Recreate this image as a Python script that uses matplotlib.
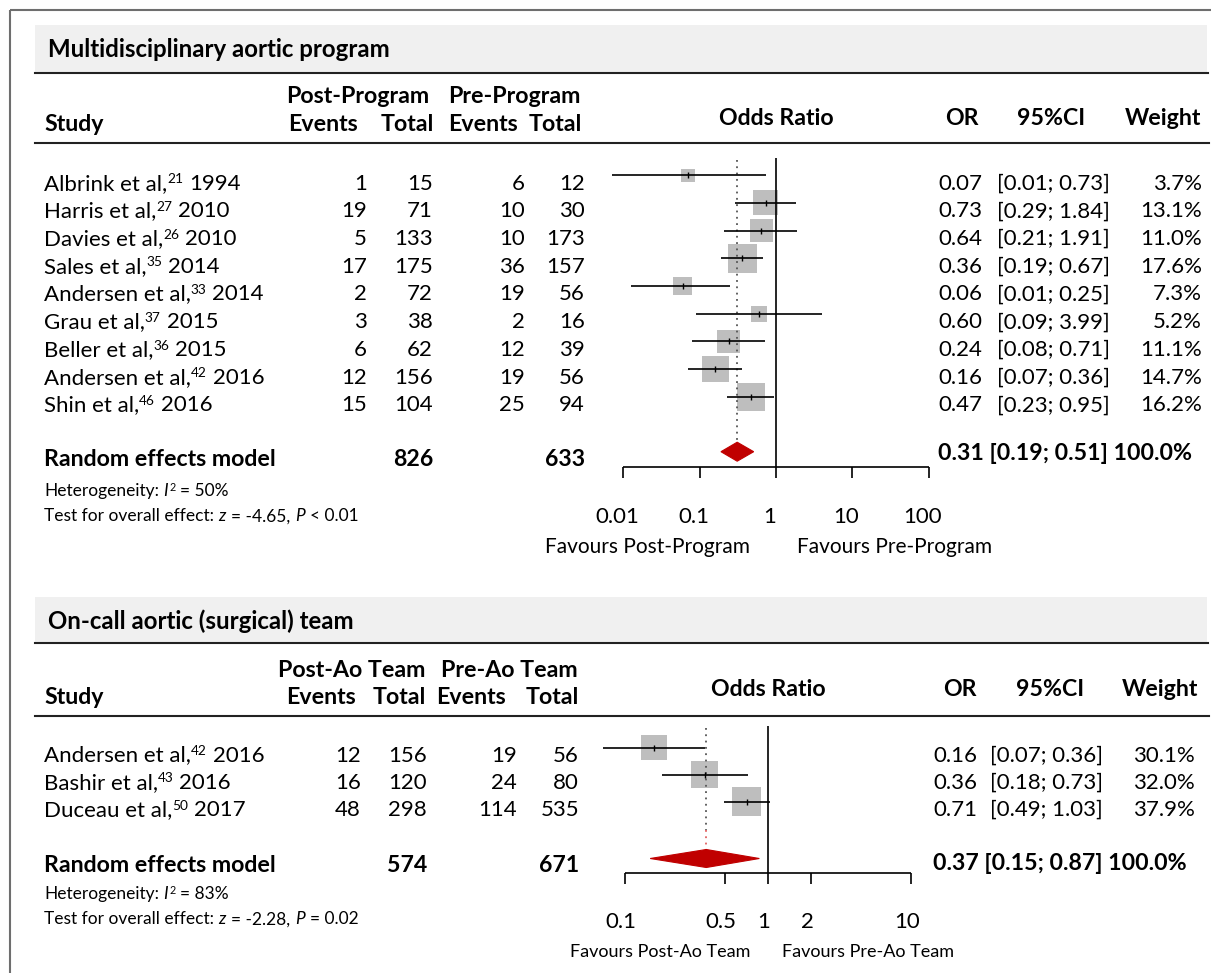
import numpy as np
import matplotlib
matplotlib.use("Agg")
import matplotlib.pyplot as plt
import matplotlib.transforms as mtransforms
from matplotlib.patches import Rectangle, Polygon

plt.rcParams['font.family'] = ['Lato', 'DejaVu Sans']

# ---------------- data: panel 1 ----------------
p1_title = "Multidisciplinary aortic program"
p1_group_post = "Post-Program"
p1_group_pre = "Pre-Program"
p1_authors = ["Albrink et al,", "Harris et al,", "Davies et al,", "Sales et al,",
              "Andersen et al,", "Grau et al,", "Beller et al,", "Andersen et al,",
              "Shin et al,"]
p1_refs = ["21", "27", "26", "35", "33", "37", "36", "42", "46"]
p1_years = ["1994", "2010", "2010", "2014", "2014", "2015", "2015", "2016", "2016"]
p1_post_events = [1, 19, 5, 17, 2, 3, 6, 12, 15]
p1_post_total = [15, 71, 133, 175, 72, 38, 62, 156, 104]
p1_pre_events = [6, 10, 10, 36, 19, 2, 12, 19, 25]
p1_pre_total = [12, 30, 173, 157, 56, 16, 39, 56, 94]
p1_or = [0.07, 0.73, 0.64, 0.36, 0.06, 0.60, 0.24, 0.16, 0.47]
p1_lo = [0.007, 0.29, 0.21, 0.19, 0.0125, 0.09, 0.08, 0.07, 0.23]
p1_hi = [0.73, 1.84, 1.91, 0.67, 0.25, 3.99, 0.71, 0.36, 0.95]
p1_weight = [3.7, 13.1, 11.0, 17.6, 7.3, 5.2, 11.1, 14.7, 16.2]
p1_sum = [0.31, 0.19, 0.51]
p1_sum_totals = [826, 633]
p1_i2 = 50
p1_z = -4.65
p1_p = ("<", "0.01")
p1_ticks = [0.01, 0.1, 1, 10, 100]
p1_tick_labels = ["0.01", "0.1", "1", "10", "100"]
p1_favours = ["Favours Post-Program", "Favours Pre-Program"]

# ---------------- data: panel 2 ----------------
p2_title = "On-call aortic (surgical) team"
p2_group_post = "Post-Ao Team"
p2_group_pre = "Pre-Ao Team"
p2_authors = ["Andersen et al,", "Bashir et al,", "Duceau et al,"]
p2_refs = ["42", "43", "50"]
p2_years = ["2016", "2016", "2017"]
p2_post_events = [12, 16, 48]
p2_post_total = [156, 120, 298]
p2_pre_events = [19, 24, 114]
p2_pre_total = [56, 80, 535]
p2_or = [0.16, 0.36, 0.71]
p2_lo = [0.07, 0.18, 0.49]
p2_hi = [0.36, 0.73, 1.03]
p2_weight = [30.1, 32.0, 37.9]
p2_sum = [0.37, 0.15, 0.87]
p2_sum_totals = [574, 671]
p2_i2 = 83
p2_z = -2.28
p2_p = ("=", "0.02")
p2_ticks = [0.1, 0.5, 1, 2, 10]
p2_tick_labels = ["0.1", "0.5", "1", "2", "10"]
p2_favours = ["Favours Post-Ao Team", "Favours Pre-Ao Team"]

W, H = 1211, 973
fig = plt.figure(figsize=(W / 100, H / 100), dpi=100)
ax0 = fig.add_axes([0, 0, 1, 1])
ax0.set_xlim(0, W)
ax0.set_ylim(H, 0)
ax0.axis('off')
renderer = fig.canvas.get_renderer()

FS = 16.0        # main text
FSB = 16.7       # bold text
FS_TITLE = 17.3
FS_SMALL = 12.5
CAP = 8.0        # half cap-height (px) of main font
CAP_S = 6.2

# outer frame (top & left visible)
ax0.plot([10, W], [10, 10], color='#6e6e6e', lw=1.5, solid_capstyle='butt')
ax0.plot([10, 10], [10, H], color='#6e6e6e', lw=1.5, solid_capstyle='butt')


def txt(x, y, s, ha='left', bold=False, fs=FS, cap=CAP, color='black'):
    return ax0.text(x, y + cap, s, ha=ha, va='baseline', fontsize=fs,
                    fontweight='bold' if bold else 'normal', color=color)


_space = {}


def space_w(fs, style):
    key = (fs, style)
    if key not in _space:
        a = ax0.text(0, 0, "x x", fontsize=fs, style=style)
        b = ax0.text(0, 0, "xx", fontsize=fs, style=style)
        _space[key] = a.get_window_extent(renderer).width - b.get_window_extent(renderer).width
        a.remove()
        b.remove()
    return _space[key]


def rich(x, y, segs, fs, cap):
    """segs: list of (text, kind) with kind in 'n', 'it', 'sup'."""
    base = y + cap
    cur = x
    for s, kind in segs:
        sfs = fs * 0.62 if kind == 'sup' else fs
        style = 'italic' if kind == 'it' else 'normal'
        sp = space_w(sfs, style)
        lead = len(s) - len(s.lstrip(' '))
        trail = len(s) - len(s.rstrip(' '))
        core = s.strip(' ')
        cur += lead * sp
        yy = base - (2 * cap) * 0.40 if kind == 'sup' else base
        t = ax0.text(cur, yy, core, ha='left', va='baseline', fontsize=sfs, style=style)
        cur += t.get_window_extent(renderer).width + trail * sp
        if kind == 'it':
            cur += 1.0


def panel(L, d):
    # header band
    ax0.add_patch(Rectangle((35, L['band'][0]), 1172, L['band'][1] - L['band'][0],
                            facecolor='#f0f0f0', edgecolor='none', zorder=0))
    ax0.plot([35, 1208], [L['band'][1]] * 2, color='#222222', lw=1.5)
    ax0.plot([35, 1209], [L['hline']] * 2, color='#222222', lw=1.5)
    txt(48, L['title_y'], d['title'], bold=True, fs=FS_TITLE)

    # column headers
    txt(L['grp_c'][0], L['hdr1'], d['group_post'], ha='center', bold=True, fs=FSB)
    txt(L['grp_c'][1], L['hdr1'], d['group_pre'], ha='center', bold=True, fs=FSB)
    txt(44, L['hdr2'], "Study", bold=True, fs=FSB)
    for xc, lab in zip(L['sub_c'], ["Events", "Total", "Events", "Total"]):
        txt(xc, L['hdr2'], lab, ha='center', bold=True, fs=FSB)
    txt(L['or_hdr_c'], L['or_hdr'], "Odds Ratio", ha='center', bold=True, fs=FSB)
    for xc, lab in zip(L['right_hdr_c'], ["OR", "95%CI", "Weight"]):
        txt(xc, L['or_hdr'], lab, ha='center', bold=True, fs=FSB)

    n = len(d['authors'])
    ys = [L['row0'] + i * L['dy'] for i in range(n)]
    cols = L['num_r']
    for i, y in enumerate(ys):
        rich(44, y, [(d['authors'][i], 'n'), (d['refs'][i], 'sup'),
                     (" " + d['years'][i], 'n')], FS, CAP)
        txt(cols[0], y, str(d['post_events'][i]), ha='right')
        txt(cols[1], y, str(d['post_total'][i]), ha='right')
        txt(cols[2], y, str(d['pre_events'][i]), ha='right')
        txt(cols[3], y, str(d['pre_total'][i]), ha='right')
        txt(L['or_r'], y, f"{d['or'][i]:.2f}", ha='right')
        txt(L['ci_r'], y, f"[{d['lo'][i]:.2f}; {d['hi'][i]:.2f}]", ha='right')
        txt(L['w_r'], y, f"{d['weight'][i]:.1f}%", ha='right')

    sy = L['sum_y']
    txt(44, sy, "Random effects model", bold=True, fs=FSB)
    txt(cols[1], sy, str(d['sum_totals'][0]), ha='right', bold=True, fs=FSB)
    txt(cols[3], sy, str(d['sum_totals'][1]), ha='right', bold=True, fs=FSB)
    s = d['sum']
    txt(L['sum_l'], L['sum_r_y'], f"{s[0]:.2f} [{s[1]:.2f}; {s[2]:.2f}] 100.0%",
        bold=True, fs=FSB)
    rich(44, L['het_y'], [("Heterogeneity: ", 'n'), ("I", 'it'), ("2", 'sup'),
                          (f" = {d['i2']}%", 'n')], FS_SMALL, CAP_S)
    rich(44, L['test_y'], [("Test for overall effect: ", 'n'), ("z", 'it'),
                           (f" = {d['z']:.2f}, ", 'n'), ("P", 'it'),
                           (f" {d['p'][0]} {d['p'][1]}", 'n')], FS_SMALL, CAP_S)

    # forest axes (log x-scale, y in figure pixels)
    xl, xr = 590, 950
    c, dec = L['c'], L['dec']
    ax = fig.add_axes([xl / W, 0, (xr - xl) / W, 1])
    ax.set_xscale('log')
    ax.set_xlim(10 ** ((xl - c) / dec), 10 ** ((xr - c) / dec))
    ax.set_ylim(H, 0)
    ax.axis('off')
    ax.patch.set_alpha(0)

    maxw = max(d['weight'])
    sq_ys = [y + L['sq_off'] for y in ys]
    sizes = [(29 * np.sqrt(w / maxw) * 0.72) ** 2 for w in d['weight']]
    ax.scatter(d['or'], sq_ys, s=sizes, marker='s', color='#bebebe',
               edgecolors='none', zorder=2)
    ax.hlines(sq_ys, d['lo'], d['hi'], color='black', lw=1.2, zorder=3)
    ax.vlines(d['or'], [y - 3 for y in sq_ys], [y + 3 for y in sq_ys],
              color='black', lw=1.0, zorder=3)

    # null line and summary line
    ax.vlines(1, L['vtop'], L['axis_y'], color='black', lw=1.2)
    ax.vlines(s[0], L['vtop'] + 2, L['dot_split'], color='#555555', lw=1.3,
              linestyles=(0, (1, 2.5)))
    if L['dot_split'] < L['dia_y'] - L['dia_h']:
        ax.vlines(s[0], L['dot_split'], L['dia_y'] - L['dia_h'], color='#e06060',
                  lw=1.3, linestyles=(0, (1, 2.5)))
    # diamond
    dy_ = L['dia_y']
    hh = L['dia_h']
    dia = np.array([[s[1], dy_], [s[0], dy_ - hh], [s[2], dy_], [s[0], dy_ + hh]])
    ax.add_patch(Polygon(dia, closed=True, facecolor='#c00000', edgecolor='#c00000',
                         lw=0.8, zorder=3))

    # axis
    t = d['ticks']
    ax.hlines(L['axis_y'], t[0], t[-1], color='black', lw=1.2)
    ax.vlines(t, L['axis_y'], L['axis_y'] + 11, color='black', lw=1.2)
    shift = mtransforms.offset_copy(ax.transData, fig=fig, x=L['tick_shift'], y=0,
                                    units='dots')
    for tv, tl in zip(t, d['tick_labels']):
        ax.text(tv, L['tick_y'] + CAP, tl, ha='center', va='baseline', fontsize=FS,
                transform=shift)
    txt(L['fav_c'][0], L['fav_y'], d['favours'][0], ha='center', fs=L['fav_fs'], cap=L['fav_cap'])
    txt(L['fav_c'][1], L['fav_y'], d['favours'][1], ha='center', fs=L['fav_fs'], cap=L['fav_cap'])


d1 = dict(title=p1_title, group_post=p1_group_post, group_pre=p1_group_pre,
          authors=p1_authors, refs=p1_refs, years=p1_years,
          post_events=p1_post_events, post_total=p1_post_total,
          pre_events=p1_pre_events, pre_total=p1_pre_total, lo=p1_lo, hi=p1_hi,
          weight=p1_weight, sum=p1_sum, sum_totals=p1_sum_totals,
          i2=p1_i2, z=p1_z, p=p1_p, ticks=p1_ticks, tick_labels=p1_tick_labels,
          favours=p1_favours)
d1['or'] = p1_or
d2 = dict(title=p2_title, group_post=p2_group_post, group_pre=p2_group_pre,
          authors=p2_authors, refs=p2_refs, years=p2_years,
          post_events=p2_post_events, post_total=p2_post_total,
          pre_events=p2_pre_events, pre_total=p2_pre_total, lo=p2_lo, hi=p2_hi,
          weight=p2_weight, sum=p2_sum, sum_totals=p2_sum_totals,
          i2=p2_i2, z=p2_z, p=p2_p, ticks=p2_ticks, tick_labels=p2_tick_labels,
          favours=p2_favours)
d2['or'] = p2_or

L1 = dict(band=(25, 73), hline=143.3, title_y=49, hdr1=95, hdr2=123.3, or_hdr=116.7,
          grp_c=(357.5, 514), sub_c=(323, 407, 483, 555), or_hdr_c=776,
          right_hdr_c=(962, 1051, 1163), row0=181.7, dy=27.7,
          num_r=(367, 433, 525, 585), or_r=982, ci_r=1110, w_r=1202,
          sum_y=458, sum_r_y=452, sum_l=938, het_y=490, test_y=515,
          c=776, dec=76.3, sq_off=-6.5, vtop=158, axis_y=467, dot_split=442,
          dia_y=451.7, dia_h=9.5, tick_y=515, tick_shift=-6, fav_y=546,
          fav_c=(647.5, 894.5), fav_fs=15.0, fav_cap=7.4)
L2 = dict(band=(597, 643), hline=716, title_y=621, hdr1=669, hdr2=696, or_hdr=688,
          grp_c=(352, 509), sub_c=(321, 399.5, 471, 552), or_hdr_c=768,
          right_hdr_c=(960, 1050, 1160), row0=753.5, dy=27.2,
          num_r=(361, 427, 517, 579), or_r=977, ci_r=1103, w_r=1195,
          sum_y=864, sum_r_y=862, sum_l=933, het_y=893, test_y=918,
          c=768, dec=143, sq_off=-6, vtop=726, axis_y=873.3, dot_split=830,
          dia_y=858.5, dia_h=9, tick_y=920.5, tick_shift=-4, fav_y=950.5,
          fav_c=(660, 868), fav_fs=13.0, fav_cap=6.4)

panel(L1, d1)
panel(L2, d2)

fig.savefig("out.png", dpi=100)
